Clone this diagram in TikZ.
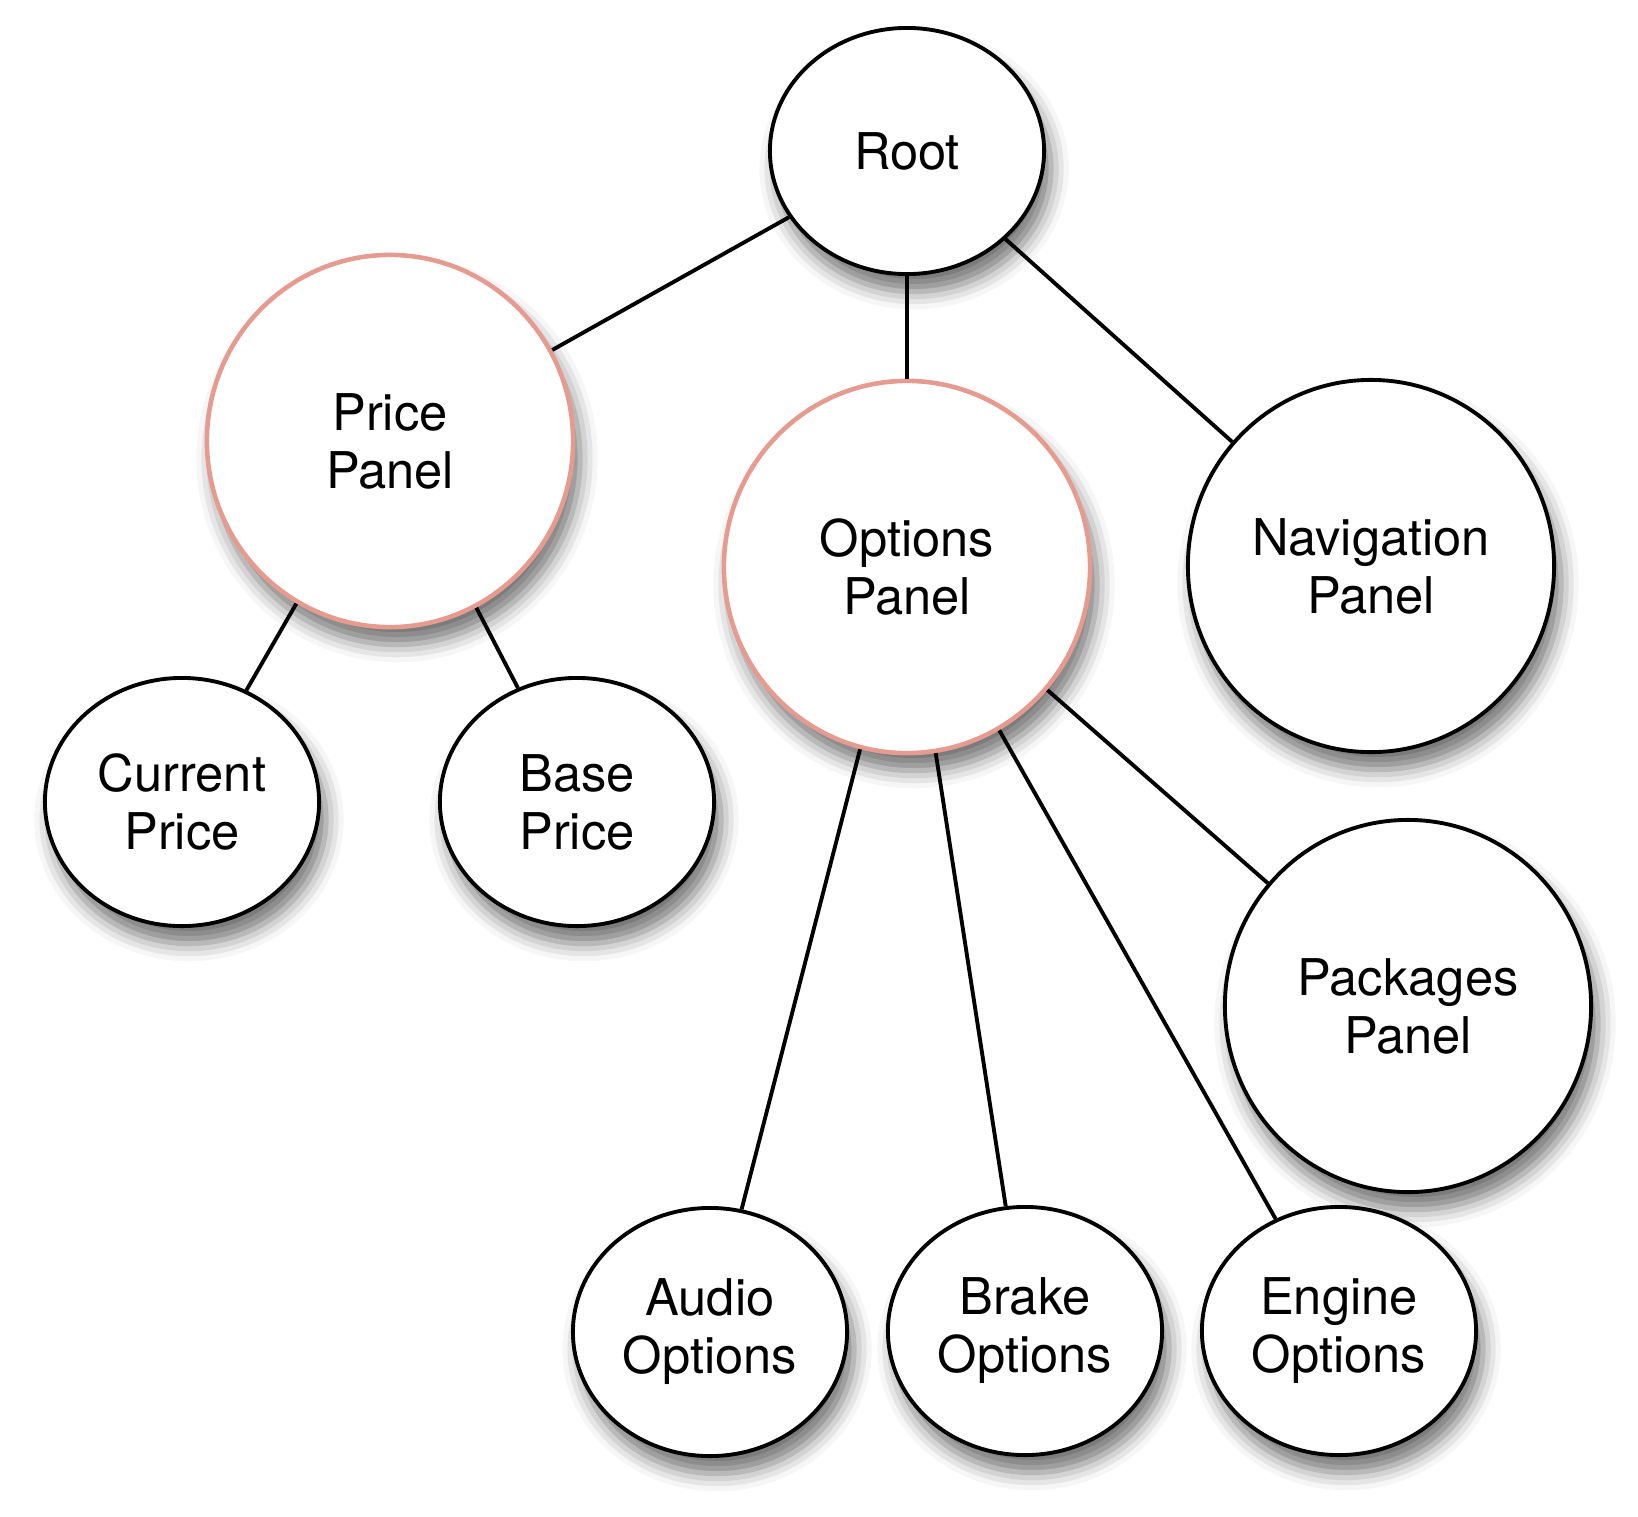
\documentclass[tikz,border=0pt]{standalone}
\usepackage{fontspec}
\setmainfont{TeX Gyre Heros}
\usepackage{tikz}
\usetikzlibrary{shapes, shadows.blur, positioning}
\definecolor{panelpink}{RGB}{230,155,145}
\tikzset{
  bubble/.style={ellipse, draw, line width=1.1pt, fill=white, inner sep=0pt, align=center,
    font=\fontsize{14.4}{16.5}\selectfont,
    blur shadow={shadow xshift=2pt, shadow yshift=-5pt, shadow blur radius=5pt, shadow opacity=55}},
  small/.style={bubble, minimum width=2.74cm, minimum height=2.48cm},
  big/.style={bubble, minimum width=3.66cm, minimum height=3.72cm},
  panel/.style={big, draw=panelpink, line width=1.3pt}
}

\begin{document}
\begin{tikzpicture}[x=0.01cm, y=-0.01cm]
        \useasboundingbox (0,0) rectangle (1638,1517);
        \node[small, minimum height=2.46cm] (root) at (907,151) {Root};
        \node[panel] (price) at (390,441) {Price\\Panel};
        \node[panel] (options) at (907,567) {Options\\Panel};
        \node[big] (nav) at (1371,566) {Navigation\\Panel};
        \node[small] (current) at (182,802) {Current\\Price};
        \node[small] (base) at (577,802) {Base\\Price};
        \node[big] (packages) at (1408,1006) {Packages\\Panel};
        \node[small] (audio) at (710,1332) {Audio\\Options};
        \node[small] (brake) at (1025,1331) {Brake\\Options};
        \node[small] (engine) at (1339,1331) {Engine\\Options};
        \foreach \a/\b in {root/price, root/options, root/nav, price/current, price/base,
                          options/audio, options/brake, options/engine, options/packages} {
            \draw[line width=1.1pt] (\a) -- (\b);
        }
    \end{tikzpicture}
\end{document}
